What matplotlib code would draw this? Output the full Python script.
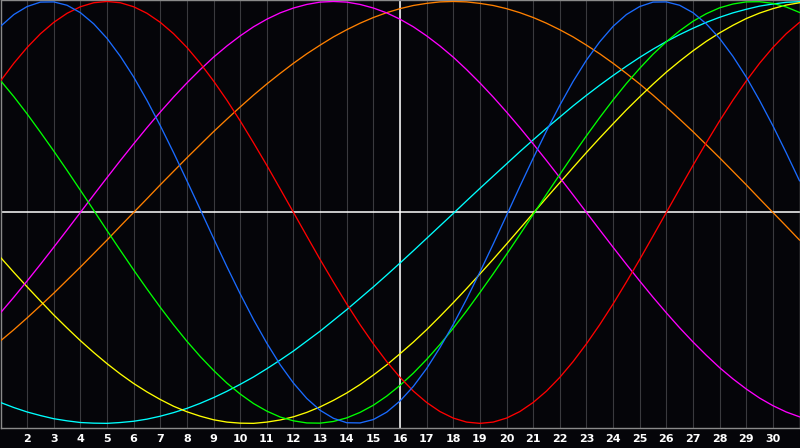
import matplotlib
matplotlib.use("Agg")
import matplotlib.pyplot as plt

days = [1, 1.5, 2, 2.5, 3, 3.5, 4, 4.5, 5, 5.5, 6, 6.5, 7, 7.5, 8, 8.5, 9, 9.5, 10, 10.5,
        11, 11.5, 12, 12.5, 13, 13.5, 14, 14.5, 15, 15.5, 16, 16.5, 17, 17.5, 18, 18.5, 19, 19.5, 20, 20.5,
        21, 21.5, 22, 22.5, 23, 23.5, 24, 24.5, 25, 25.5, 26, 26.5, 27, 27.5, 28, 28.5, 29, 29.5, 30, 30.5, 31]
tick_days = list(range(2, 31))
tick_labels = [str(d) for d in tick_days]
today = 16

physical = [0.882, 0.938, 0.976, 0.997, 0.998, 0.982, 0.947, 0.894, 0.825, 0.740, 0.642, 0.531, 0.411, 0.283,
            0.150, 0.014, -0.123, -0.257, -0.386, -0.508, -0.620, -0.722, -0.809, -0.882, -0.938, -0.976,
            -0.997, -0.998, -0.982, -0.947, -0.894, -0.825, -0.740, -0.641, -0.531, -0.411, -0.283, -0.150,
            -0.014, 0.123, 0.257, 0.386, 0.508, 0.621, 0.722, 0.809, 0.882, 0.938, 0.976, 0.997, 0.998, 0.982,
            0.947, 0.894, 0.825, 0.740, 0.642, 0.531, 0.411, 0.283, 0.150]
emotional = [0.623, 0.707, 0.782, 0.847, 0.901, 0.944, 0.975, 0.994, 1.000, 0.994, 0.975, 0.944, 0.901, 0.847,
             0.782, 0.707, 0.623, 0.532, 0.434, 0.330, 0.223, 0.112, 0.000, -0.112, -0.223, -0.330, -0.434,
             -0.532, -0.623, -0.707, -0.782, -0.847, -0.901, -0.944, -0.975, -0.994, -1.000, -0.994, -0.975,
             -0.944, -0.901, -0.847, -0.782, -0.707, -0.623, -0.532, -0.434, -0.330, -0.223, -0.112, 0.000,
             0.112, 0.223, 0.330, 0.434, 0.532, 0.623, 0.707, 0.782, 0.847, 0.901]
intellectual = [0.625, 0.549, 0.467, 0.380, 0.291, 0.199, 0.105, 0.010, -0.086, -0.180, -0.273, -0.363, -0.450,
                -0.533, -0.611, -0.683, -0.749, -0.809, -0.861, -0.906, -0.942, -0.970, -0.988, -0.998, -0.999,
                -0.991, -0.974, -0.948, -0.914, -0.871, -0.820, -0.762, -0.697, -0.626, -0.549, -0.467, -0.380,
                -0.291, -0.199, -0.105, -0.010, 0.086, 0.180, 0.273, 0.363, 0.450, 0.533, 0.611, 0.683, 0.750,
                0.809, 0.861, 0.906, 0.942, 0.970, 0.988, 0.998, 0.999, 0.991, 0.974, 0.948]
intuitive = [-0.476, -0.402, -0.325, -0.246, -0.165, -0.083, 0.000, 0.083, 0.165, 0.246, 0.325, 0.402, 0.476,
             0.547, 0.614, 0.677, 0.736, 0.789, 0.837, 0.880, 0.916, 0.946, 0.969, 0.986, 0.997, 1.000, 0.997,
             0.986, 0.969, 0.946, 0.916, 0.880, 0.837, 0.789, 0.736, 0.677, 0.614, 0.547, 0.476, 0.402, 0.325,
             0.246, 0.165, 0.083, 0.000, -0.083, -0.165, -0.246, -0.325, -0.402, -0.476, -0.547, -0.614, -0.677,
             -0.736, -0.789, -0.837, -0.880, -0.916, -0.946, -0.969]
aesthetic = [-0.213, -0.284, -0.353, -0.420, -0.486, -0.548, -0.608, -0.664, -0.717, -0.766, -0.811, -0.851,
             -0.887, -0.919, -0.945, -0.966, -0.983, -0.994, -0.999, -1.000, -0.994, -0.984, -0.969, -0.948,
             -0.922, -0.891, -0.856, -0.816, -0.771, -0.723, -0.670, -0.615, -0.556, -0.493, -0.428, -0.361,
             -0.292, -0.222, -0.150, -0.077, -0.004, 0.069, 0.141, 0.213, 0.284, 0.353, 0.420, 0.486, 0.548,
             0.608, 0.665, 0.717, 0.766, 0.811, 0.851, 0.887, 0.919, 0.945, 0.966, 0.983, 0.994]
awareness = [-0.609, -0.556, -0.500, -0.442, -0.383, -0.321, -0.259, -0.195, -0.131, -0.065, 0.000, 0.065,
             0.131, 0.195, 0.259, 0.321, 0.383, 0.442, 0.500, 0.556, 0.609, 0.659, 0.707, 0.752, 0.793, 0.832,
             0.866, 0.897, 0.924, 0.947, 0.966, 0.981, 0.991, 0.998, 1.000, 0.998, 0.991, 0.981, 0.966, 0.947,
             0.924, 0.897, 0.866, 0.832, 0.793, 0.752, 0.707, 0.659, 0.609, 0.556, 0.500, 0.442, 0.383, 0.321,
             0.259, 0.195, 0.131, 0.065, 0.000, -0.065, -0.131]
spiritual = [-0.901, -0.925, -0.946, -0.963, -0.978, -0.988, -0.996, -0.999, -1.000, -0.996, -0.990, -0.980,
             -0.966, -0.949, -0.929, -0.905, -0.878, -0.848, -0.815, -0.780, -0.741, -0.700, -0.657, -0.610,
             -0.563, -0.512, -0.461, -0.407, -0.353, -0.297, -0.240, -0.182, -0.123, -0.064, -0.005, 0.055,
             0.114, 0.172, 0.230, 0.288, 0.344, 0.399, 0.452, 0.505, 0.555, 0.603, 0.649, 0.693, 0.735, 0.774,
             0.810, 0.843, 0.873, 0.901, 0.925, 0.946, 0.963, 0.978, 0.988, 0.996, 0.999]

series = [
    (spiritual, "#00ffff"),
    (awareness, "#ff8000"),
    (aesthetic, "#ffff00"),
    (intuitive, "#ff00ff"),
    (intellectual, "#00ff00"),
    (emotional, "#ff0000"),
    (physical, "#1a6bff"),
]

W, H = 800, 448
fig = plt.figure(figsize=(W / 100, H / 100), dpi=100)
fig.patch.set_facecolor("#050509")
ax = fig.add_axes([0.5 / W, 20 / H, (W - 1) / W, 428 / H])
ax.set_facecolor("#050509")

for d in tick_days:
    ax.axvline(d, color="#3a3a3e", lw=0.8, zorder=1)

ax.axhline(0, color="white", lw=1.1, zorder=2)
ax.axvline(today, color="white", lw=1.1, zorder=2)

for vals, col in series:
    ax.plot(days, vals, color=col, lw=0.95, zorder=3)

ax.set_xlim(1, 31)
ax.set_ylim(-1.022, 1.007)
ax.set_yticks([])
ax.set_xticks(tick_days)
ax.set_xticklabels(tick_labels, color="white", fontsize=8, fontweight="bold", family="DejaVu Sans")
ax.tick_params(axis="x", length=0, pad=4)
for s in ax.spines.values():
    s.set_color("#8a8a8a")
    s.set_linewidth(1.0)

fig.savefig("out.png", dpi=100, facecolor=fig.get_facecolor())
